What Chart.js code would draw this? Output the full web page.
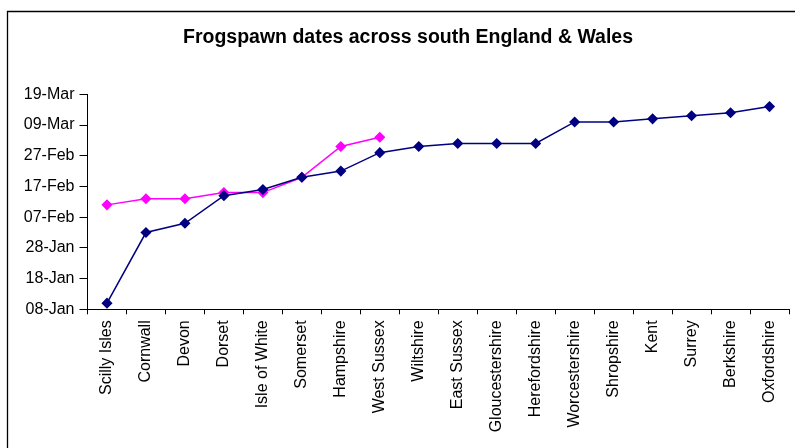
<!DOCTYPE html>
<html>
<head>
<meta charset="utf-8">
<script src="https://cdn.jsdelivr.net/npm/chart.js@4/dist/chart.umd.min.js"></script>
<style>
  html, body { margin: 0; padding: 0; background: #ffffff; }
  canvas { display: block; }
</style>
</head>
<body>
<canvas id="c" width="795" height="448"></canvas>
<script>
// ---- data ----
const counties = ["Scilly Isles", "Cornwall", "Devon", "Dorset", "Isle of White", "Somerset",
  "Hampshire", "West Sussex", "Wiltshire", "East Sussex", "Gloucestershire", "Herefordshire",
  "Worcestershire", "Shropshire", "Kent", "Surrey", "Berkshire", "Oxfordshire"];
const seriesNavyDates = ["10-Jan", "02-Feb", "05-Feb", "14-Feb", "16-Feb", "20-Feb",
  "22-Feb", "28-Feb", "02-Mar", "03-Mar", "03-Mar", "03-Mar",
  "10-Mar", "10-Mar", "11-Mar", "12-Mar", "13-Mar", "15-Mar"];
const seriesPinkDates = ["11-Feb", "13-Feb", "13-Feb", "15-Feb", "15-Feb", "20-Feb",
  "02-Mar", "05-Mar", null, null, null, null, null, null, null, null, null, null];
const yTickStart = "08-Jan";
const yTickEnd = "19-Mar";
const yTickStepDays = 10;

// ---- date helpers (non-leap year, day of year) ----
const monthNames = ["Jan","Feb","Mar","Apr","May","Jun","Jul","Aug","Sep","Oct","Nov","Dec"];
const monthDays = [31,28,31,30,31,30,31,31,30,31,30,31];
function toDay(s) {
  if (s === null) return null;
  const [d, m] = s.split("-");
  let idx = monthNames.indexOf(m), day = parseInt(d, 10);
  for (let i = 0; i < idx; i++) day += monthDays[i];
  return day;
}
function fromDay(n) {
  let m = 0, d = Math.round(n);
  while (d > monthDays[m]) { d -= monthDays[m]; m++; }
  return String(d).padStart(2, "0") + "-" + monthNames[m];
}

const font = "'Liberation Sans', Arial, sans-serif";

const borderPlugin = {
  id: "frame",
  beforeDraw(chart) {
    const ctx = chart.ctx;
    ctx.save();
    ctx.fillStyle = "#ffffff";
    ctx.fillRect(0, 0, chart.width, chart.height);
    ctx.strokeStyle = "#000000";
    ctx.lineWidth = 1.3;
    ctx.beginPath();
    ctx.moveTo(7.5, chart.height);
    ctx.lineTo(7.5, 11.5);
    ctx.lineTo(chart.width, 11.5);
    ctx.stroke();
    ctx.restore();
  }
};

new Chart(document.getElementById("c"), {
  type: "line",
  data: {
    labels: counties,
    datasets: [
      {
        data: seriesNavyDates.map(toDay),
        borderColor: "#000080",
        backgroundColor: "#000080",
        pointBackgroundColor: "#000080",
        pointBorderColor: "#000080",
        pointStyle: "rectRot",
        pointRadius: 4.5,
        borderWidth: 1.5,
        tension: 0
      },
      {
        data: seriesPinkDates.map(toDay),
        borderColor: "#FF00FF",
        backgroundColor: "#FF00FF",
        pointBackgroundColor: "#FF00FF",
        pointBorderColor: "#FF00FF",
        pointStyle: "rectRot",
        pointRadius: 4.5,
        borderWidth: 1.5,
        tension: 0,
        spanGaps: false
      }
    ]
  },
  options: {
    responsive: false,
    animation: false,
    devicePixelRatio: 1,
    layout: { padding: { left: 23, right: 2, top: 0, bottom: 0 } },
    plugins: {
      legend: { display: false },
      tooltip: { enabled: false },
      title: {
        display: true,
        text: "Frogspawn dates across south England & Wales",
        color: "#000000",
        font: { family: font, size: 19.5, weight: "bold", lineHeight: 1.2 },
        padding: { top: 26.3, bottom: 44.6 }
      }
    },
    scales: {
      x: {
        offset: true,
        grid: { offset: true, drawOnChartArea: false, display: true, color: "#000000", tickLength: 5, tickWidth: 1 },
        border: { display: true, color: "#000000", width: 1 },
        ticks: {
          color: "#000000",
          font: { family: font, size: 16 },
          minRotation: 90, maxRotation: 90,
          autoSkip: false,
          padding: 6
        },
        afterFit(scale) { scale.height = 138.7; }
      },
      y: {
        min: toDay(yTickStart),
        max: toDay(yTickEnd),
        grid: { drawOnChartArea: false, color: "#000000", tickLength: 8, tickWidth: 1 },
        border: { display: true, color: "#000000", width: 1 },
        ticks: {
          stepSize: yTickStepDays,
          color: "#000000",
          font: { family: font, size: 16 },
          padding: 5,
          callback: (v) => fromDay(v)
        },
        afterFit(scale) { scale.width = 64.5; }
      }
    }
  },
  plugins: [borderPlugin]
});
</script>
</body>
</html>
